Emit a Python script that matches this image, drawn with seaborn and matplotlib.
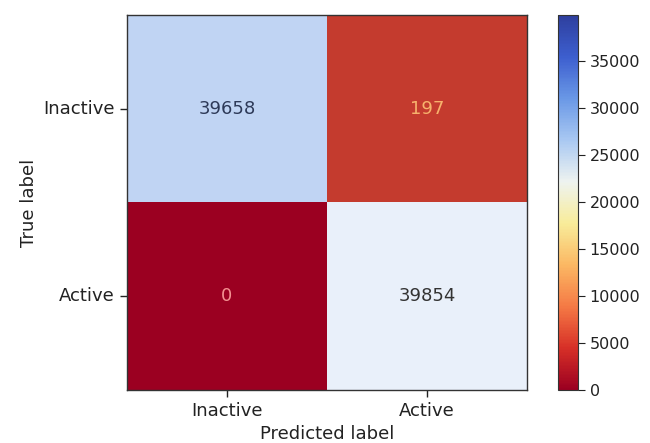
import numpy as np
import matplotlib
matplotlib.use('Agg')
import matplotlib.pyplot as plt
import seaborn as sns
from matplotlib.colors import LinearSegmentedColormap, Normalize
from matplotlib.cm import ScalarMappable

# confusion matrix values (rows = true, cols = predicted)
class_labels = ['Inactive', 'Active']
row_inactive = [39658, 197]
row_active = [0, 39854]
cbar_ticks = [0, 5000, 10000, 15000, 20000, 25000, 30000, 35000]

cm = np.array([row_inactive, row_active])
vmax = cm.max()

# cell colours as they appear in the picture
cell_cmap = LinearSegmentedColormap.from_list(
    'cells',
    [(0.0, '#9b0021'), (197 / vmax, '#cf4a32'),
     (39658 / vmax, '#b6cdf1'), (1.0, '#e9f0fa')])
text_colors = ['#2e3a58', '#f7b26c', '#f39191', '#333333']

# colour bar scale: red -> yellow -> pale -> royal blue
bar_cmap = LinearSegmentedColormap.from_list(
    'bar', ['#9b0021', '#d73027', '#f57a45', '#fbb863', '#f8ec9a',
            '#eef3f0', '#a9c8f2', '#6a98e6', '#3d5fcf', '#2e3f9e'])

plt.rcParams['font.family'] = ['DejaVu Sans']

fig = plt.figure(figsize=(6.5, 4.43), dpi=100)
ax = fig.add_axes([0.195, 0.12, 0.616, 0.846])
cax = fig.add_axes([0.859, 0.12, 0.030, 0.846])

sns.heatmap(cm, annot=True, fmt='d', cmap=cell_cmap, vmin=0, vmax=vmax,
            cbar=False, ax=ax, annot_kws={'fontsize': 13},
            xticklabels=class_labels, yticklabels=class_labels)

for t, c in zip(ax.texts, text_colors):
  t.set_color(c)

for s in ax.spines.values():
  s.set_visible(True)
  s.set_color('#333333')
  s.set_linewidth(1.0)

ax.tick_params(axis='both', length=5, width=1, labelsize=13, colors='#222222')
ax.set_yticklabels(class_labels, rotation=0)
ax.set_xticklabels(class_labels, rotation=0)
ax.set_xlabel('Predicted label', fontsize=13, color='#222222')
ax.set_ylabel('True label', fontsize=13, color='#222222')

# colour bar
sm = ScalarMappable(norm=Normalize(0, vmax), cmap=bar_cmap)
cb = fig.colorbar(sm, cax=cax, ticks=cbar_ticks)
cb.ax.tick_params(labelsize=11.5, length=5, colors='#222222')
cb.outline.set_edgecolor('#333333')

fig.savefig('out.png', dpi=100)
